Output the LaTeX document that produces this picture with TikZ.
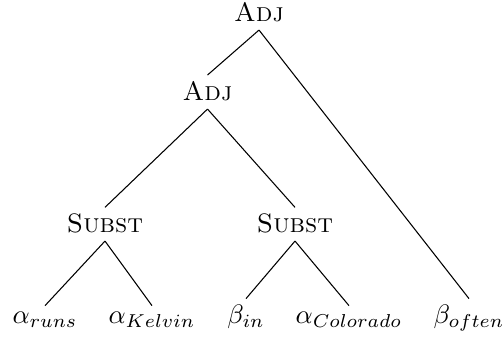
\documentclass[tikz,border=0pt]{standalone}
\begin{document}
\begin{tikzpicture}[x=0.375pt,y=-0.375pt,
  tn/.style={anchor=base,inner sep=2pt},
  inner/.style={tn,text depth=1.2pt},
  edge/.style={draw,line width=0.4pt}]
\useasboundingbox (0,0) rectangle (504,339);
\node[inner] (adj) at (259,21) {\textsc{Adj}};
\node[inner] (adj2) at (207.5,100) {\textsc{Adj}};
\node[inner] (s1) at (105,232) {\textsc{Subst}};
\node[inner] (s2) at (295,232) {\textsc{Subst}};
\node[tn] (runs) at (45,323) {$\alpha_{runs}$};
\node[tn] (kelvin) at (152,323) {$\alpha_{Kelvin}$};
\node[tn] (in) at (246,323) {$\beta_{in}$};
\node[tn] (colorado) at (349,323) {$\alpha_{Colorado}$};
\node[tn] (often) at (469,323) {$\beta_{often}$};
\draw[edge] (adj.south) -- (adj2.north);
\draw[edge] (adj.south) -- (often.north);
\draw[edge] (adj2.south) -- (s1.north);
\draw[edge] (adj2.south) -- (s2.north);
\draw[edge] (s1.south) -- (runs.north);
\draw[edge] (s1.south) -- (kelvin.north);
\draw[edge] (s2.south) -- (in.north);
\draw[edge] (s2.south) -- (colorado.north);
\end{tikzpicture}
\end{document}
